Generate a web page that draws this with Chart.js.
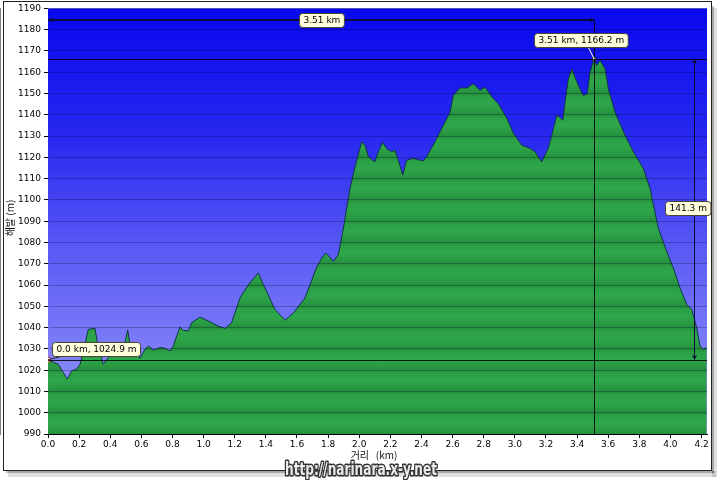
<!DOCTYPE html>
<html>
<head>
<meta charset="utf-8">
<script src="https://cdn.jsdelivr.net/npm/chart.js@4.4.0/dist/chart.umd.min.js"></script>
<style>
html, body { margin: 0; padding: 0; background: #fff; }
#wrap { width: 720px; height: 480px; position: relative; }
</style>
</head>
<body>
<div id="wrap"><canvas id="profile" width="720" height="480"></canvas></div>
<script>
// 고도 프로파일 (거리 km / 해발 m)
const distKm = [
    0.000, 0.013, 0.066, 0.098, 0.124, 0.152, 0.184, 0.206, 0.233, 0.259,
    0.302, 0.323, 0.355, 0.388, 0.441, 0.484, 0.512, 0.533, 0.559, 0.591,
    0.623, 0.645, 0.677, 0.720, 0.752, 0.784, 0.805, 0.848, 0.870, 0.902,
    0.923, 0.977, 1.030, 1.094, 1.138, 1.180, 1.234, 1.288, 1.352, 1.384,
    1.459, 1.523, 1.577, 1.652, 1.727, 1.759, 1.787, 1.834, 1.866, 1.898,
    1.941, 1.973, 2.016, 2.037, 2.059, 2.100, 2.123, 2.151, 2.177, 2.209,
    2.230, 2.251, 2.280, 2.305, 2.348, 2.412, 2.434, 2.487, 2.541, 2.584,
    2.605, 2.648, 2.691, 2.733, 2.776, 2.808, 2.862, 2.894, 2.948, 2.990,
    3.044, 3.098, 3.130, 3.173, 3.215, 3.248, 3.269, 3.286, 3.308, 3.323,
    3.344, 3.366, 3.408, 3.440, 3.466, 3.483, 3.510, 3.526, 3.548, 3.580,
    3.601, 3.644, 3.676, 3.719, 3.762, 3.826, 3.869, 3.922, 3.976, 4.019,
    4.062, 4.105, 4.137, 4.169, 4.190, 4.212, 4.233
];
const elevM = [
    1024.9, 1024.3, 1022.8, 1018.9, 1015.8, 1019.7, 1020.5, 1022.8, 1030.6, 1039.2,
    1039.6, 1030.6, 1022.8, 1025.9, 1029.0, 1029.0, 1038.9, 1029.0, 1029.0, 1025.6,
    1029.8, 1031.4, 1029.4, 1030.6, 1030.3, 1029.0, 1031.4, 1040.3, 1038.7, 1038.4,
    1042.3, 1044.9, 1043.1, 1040.7, 1039.6, 1042.3, 1054.0, 1060.2, 1065.7, 1060.2,
    1048.5, 1043.5, 1046.9, 1054.0, 1068.5, 1072.7, 1075.0, 1071.1, 1074.3, 1086.7,
    1105.4, 1115.5, 1127.3, 1125.7, 1120.3, 1117.9, 1122.6, 1127.0, 1124.0, 1122.6,
    1123.5, 1118.7, 1111.7, 1118.7, 1119.5, 1118.3, 1120.3, 1127.3, 1135.1, 1141.3,
    1149.1, 1152.6, 1152.6, 1154.6, 1151.5, 1153.0, 1147.6, 1145.2, 1138.5, 1131.5,
    1125.7, 1124.2, 1122.6, 1117.9, 1124.2, 1133.5, 1139.8, 1139.0, 1137.5, 1146.0,
    1156.9, 1161.6, 1153.8, 1149.1, 1149.9, 1160.1, 1166.2, 1163.2, 1165.5, 1161.6,
    1152.2, 1141.3, 1135.8, 1128.8, 1122.6, 1114.8, 1105.4, 1086.7, 1075.8, 1068.0,
    1058.6, 1050.8, 1048.5, 1039.9, 1031.4, 1029.8, 1030.6
];

// 눈금
const xTickVals = [0.0, 0.2, 0.4, 0.6, 0.8, 1.0, 1.2, 1.4, 1.6, 1.8, 2.0, 2.2, 2.4, 2.6, 2.8, 3.0, 3.2, 3.4, 3.6, 3.8, 4.0, 4.2];
const yTickVals = [990, 1000, 1010, 1020, 1030, 1040, 1050, 1060, 1070, 1080, 1090, 1100, 1110, 1120, 1130, 1140, 1150, 1160, 1170, 1180, 1190];

// 표시점 (시작점, 최고점)
const markKm = [0.0, 3.51];
const markElev = [1024.9, 1166.2];
const markLabels = ['0.0 km, 1024.9 m', '3.51 km, 1166.2 m'];
const distLabel = '3.51 km';
const riseLabel = '141.3 m';

const xMin = 0, xMax = 4.235;
const yMin = 990, yMax = 1190;

const tickFont = { family: '"DejaVu Sans", Verdana, sans-serif', size: 9 };

function greenBands(context) {
    const chart = context.chart;
    const area = chart.chartArea;
    if (!area) return 'rgb(42,158,68)';
    const ys = chart.scales.y;
    const g = chart.ctx.createLinearGradient(0, area.top, 0, area.bottom);
    const h = area.bottom - area.top;
    const stops = [
        [0.00, 'rgb(36,142,60)'],
        [0.15, 'rgb(44,160,70)'],
        [0.50, 'rgb(46,166,74)'],
        [0.85, 'rgb(41,152,66)'],
        [0.99, 'rgb(37,144,61)']
    ];
    for (let i = 0; i < yTickVals.length - 1; i++) {
        const top = ys.getPixelForValue(yTickVals[yTickVals.length - 1 - i]);
        const bot = ys.getPixelForValue(yTickVals[yTickVals.length - 2 - i]);
        stops.forEach(([t, c]) => {
            const p = (top + (bot - top) * t - area.top) / h;
            g.addColorStop(Math.min(1, Math.max(0, p)), c);
        });
    }
    return g;
}

function labelBox(ctx, text, x, y) {
    ctx.font = '9px "DejaVu Sans", Verdana, sans-serif';
    const w = ctx.measureText(text).width + 8;
    const h = 14;
    ctx.beginPath();
    ctx.roundRect(x + 0.5, y + 0.5, w, h, 3);
    ctx.fillStyle = 'rgb(255,255,222)';
    ctx.fill();
    ctx.strokeStyle = 'rgb(70,70,50)';
    ctx.lineWidth = 1;
    ctx.stroke();
    ctx.fillStyle = '#000';
    ctx.textAlign = 'left';
    ctx.textBaseline = 'middle';
    ctx.fillText(text, x + 4.5, y + h / 2 + 1);
    return w;
}

function arrow(ctx, x, y, dir) {
    ctx.beginPath();
    if (dir === 'left') { ctx.moveTo(x, y); ctx.lineTo(x + 4, y - 2.5); ctx.lineTo(x + 4, y + 2.5); }
    if (dir === 'right') { ctx.moveTo(x, y); ctx.lineTo(x - 4, y - 2.5); ctx.lineTo(x - 4, y + 2.5); }
    if (dir === 'up') { ctx.moveTo(x, y); ctx.lineTo(x - 2.5, y + 4); ctx.lineTo(x + 2.5, y + 4); }
    if (dir === 'down') { ctx.moveTo(x, y); ctx.lineTo(x - 2.5, y - 4); ctx.lineTo(x + 2.5, y - 4); }
    ctx.closePath();
    ctx.fill();
}

const backdrop = {
    id: 'backdrop',
    beforeDraw(chart) {
        const ctx = chart.ctx;
        const a = chart.chartArea;
        ctx.save();
        ctx.fillStyle = '#fff';
        ctx.fillRect(0, 0, chart.width, chart.height);
        // 그림자 + 테두리
        ctx.fillStyle = 'rgba(0,0,0,0.12)';
        ctx.fillRect(8, 471, 708, 6);
        ctx.fillRect(712, 8, 5, 469);
        ctx.fillStyle = 'rgba(0,0,0,0.25)';
        ctx.fillRect(6, 471, 708, 2);
        ctx.fillRect(712, 6, 2, 467);
        ctx.strokeStyle = '#222';
        ctx.lineWidth = 1;
        ctx.strokeRect(3.5, 1.5, 708, 469);
        // 하늘 배경
        const g = ctx.createLinearGradient(0, a.top, 0, a.bottom);
        g.addColorStop(0, 'rgb(8,8,238)');
        g.addColorStop(0.3, 'rgb(40,40,240)');
        g.addColorStop(0.6, 'rgb(95,95,245)');
        g.addColorStop(1, 'rgb(155,155,250)');
        ctx.fillStyle = g;
        ctx.fillRect(a.left, a.top, a.right - a.left, a.bottom - a.top);
        ctx.restore();
    },
    afterDraw(chart) {
        const ctx = chart.ctx;
        const a = chart.chartArea;
        const xs = chart.scales.x;
        const ys = chart.scales.y;
        const x0 = xs.getPixelForValue(markKm[0]);
        const y0 = ys.getPixelForValue(markElev[0]);
        const x1 = xs.getPixelForValue(markKm[1]);
        const y1 = ys.getPixelForValue(markElev[1]);
        const yDim = ys.getPixelForValue(1184.6);
        const xDim = xs.getPixelForValue(4.152);
        ctx.save();
        ctx.strokeStyle = 'rgba(0,0,0,0.85)';
        ctx.fillStyle = '#000';
        ctx.lineWidth = 1;
        // 기준선
        ctx.beginPath();
        ctx.moveTo(a.left, Math.round(y0) + 0.5); ctx.lineTo(a.right, Math.round(y0) + 0.5);
        ctx.moveTo(a.left, Math.round(y1) + 0.5); ctx.lineTo(a.right, Math.round(y1) + 0.5);
        ctx.moveTo(Math.round(x1) + 0.5, yDim); ctx.lineTo(Math.round(x1) + 0.5, a.bottom);
        ctx.stroke();
        // 거리 치수선
        ctx.strokeStyle = 'rgb(10,10,60)';
        ctx.lineWidth = 2;
        ctx.beginPath();
        ctx.moveTo(x0, Math.round(yDim)); ctx.lineTo(x1, Math.round(yDim));
        ctx.stroke();
        ctx.fillStyle = 'rgb(10,10,60)';
        arrow(ctx, x0 + 1, Math.round(yDim), 'left');
        arrow(ctx, x1, Math.round(yDim), 'right');
        // 높이 치수선
        ctx.strokeStyle = 'rgb(10,10,60)';
        ctx.lineWidth = 1;
        ctx.beginPath();
        ctx.moveTo(Math.round(xDim) + 0.5, y1); ctx.lineTo(Math.round(xDim) + 0.5, y0);
        ctx.stroke();
        arrow(ctx, Math.round(xDim) + 0.5, y1, 'up');
        arrow(ctx, Math.round(xDim) + 0.5, y0, 'down');
        // 지시선
        ctx.strokeStyle = '#fff';
        ctx.beginPath();
        ctx.moveTo(x1 - 6, y1 - 12); ctx.lineTo(x1, y1);
        ctx.stroke();
        ctx.strokeStyle = '#222';
        ctx.beginPath();
        ctx.moveTo(x0 + 12, y0 - 3); ctx.lineTo(x0, y0);
        ctx.stroke();
        // 라벨
        ctx.font = '9px "DejaVu Sans", Verdana, sans-serif';
        let w = ctx.measureText(distLabel).width + 8;
        labelBox(ctx, distLabel, Math.round((x0 + x1) / 2 - w / 2), Math.round(yDim) - 7);
        w = ctx.measureText(riseLabel).width + 8;
        labelBox(ctx, riseLabel, Math.round(xDim - w / 2 - 6), Math.round((y0 + y1) / 2) - 8);
        labelBox(ctx, markLabels[0], Math.round(x0 + 4), Math.round(y0) - 18);
        labelBox(ctx, markLabels[1], Math.round(x1 - 60), Math.round(y1) - 26);
        // 축 제목
        ctx.fillStyle = '#111';
        ctx.font = '10px "Noto Sans CJK KR", "DejaVu Sans", sans-serif';
        ctx.textAlign = 'center';
        ctx.textBaseline = 'middle';
        ctx.fillText('거리   (km)', 374, 455);
        ctx.save();
        ctx.translate(10, 218);
        ctx.rotate(-Math.PI / 2);
        ctx.fillText('해발 (m)', 0, 0);
        ctx.restore();
        // 워터마크
        ctx.font = 'bold 17px "Liberation Sans Narrow", "DejaVu Sans Condensed", sans-serif';
        ctx.textAlign = 'center';
        ctx.textBaseline = 'alphabetic';
        ctx.lineJoin = 'round';
        ctx.lineWidth = 3;
        ctx.strokeStyle = 'rgb(50,50,50)';
        ctx.strokeText('http://narinara.x-y.net', 361, 475, 152);
        ctx.fillStyle = 'rgb(235,235,235)';
        ctx.fillText('http://narinara.x-y.net', 361, 475, 152);
        ctx.restore();
    }
};

const profilePoints = distKm.map((d, i) => ({ x: d, y: elevM[i] }));
const markPoints = markKm.map((d, i) => ({ x: d, y: markElev[i] }));

new Chart(document.getElementById('profile'), {
    type: 'line',
    data: {
        datasets: [{
            data: markPoints,
            showLine: false,
            pointStyle: ['circle', 'rect'],
            pointRadius: [2.5, 2.5],
            pointBackgroundColor: ['#fff', '#fff'],
            pointBorderColor: ['rgb(200,40,40)', 'rgb(30,30,50)'],
            pointBorderWidth: 1,
            order: 0
        }, {
            data: profilePoints,
            borderColor: 'rgb(15,55,70)',
            borderWidth: 1,
            backgroundColor: greenBands,
            fill: 'start',
            pointRadius: 0,
            tension: 0,
            order: 1
        }]
    },
    options: {
        responsive: false,
        animation: false,
        layout: { padding: { left: 0, top: 6, right: 13, bottom: 0 } },
        plugins: { legend: { display: false }, tooltip: { enabled: false } },
        scales: {
            x: {
                type: 'linear',
                min: xMin,
                max: xMax,
                afterBuildTicks: s => { s.ticks = xTickVals.map(v => ({ value: v })); },
                afterFit: s => { s.height = 46; },
                ticks: {
                    color: '#000',
                    font: tickFont,
                    padding: 1,
                    maxRotation: 0,
                    autoSkip: false,
                    callback: v => Number(v).toFixed(1)
                },
                grid: { drawOnChartArea: false, drawTicks: true, tickLength: 4, color: '#000' },
                border: { display: true, color: '#000', width: 1 }
            },
            y: {
                type: 'linear',
                min: yMin,
                max: yMax,
                afterBuildTicks: s => { s.ticks = yTickVals.map(v => ({ value: v })); },
                afterFit: s => { s.width = 48; },
                ticks: {
                    color: '#000',
                    font: tickFont,
                    padding: 3,
                    autoSkip: false,
                    callback: v => String(v)
                },
                grid: {
                    z: 1,
                    color: 'rgba(0,0,40,0.26)',
                    tickColor: '#000',
                    tickLength: 4
                },
                border: { display: true, color: '#000', width: 1 }
            }
        }
    },
    plugins: [backdrop]
});
</script>
</body>
</html>
